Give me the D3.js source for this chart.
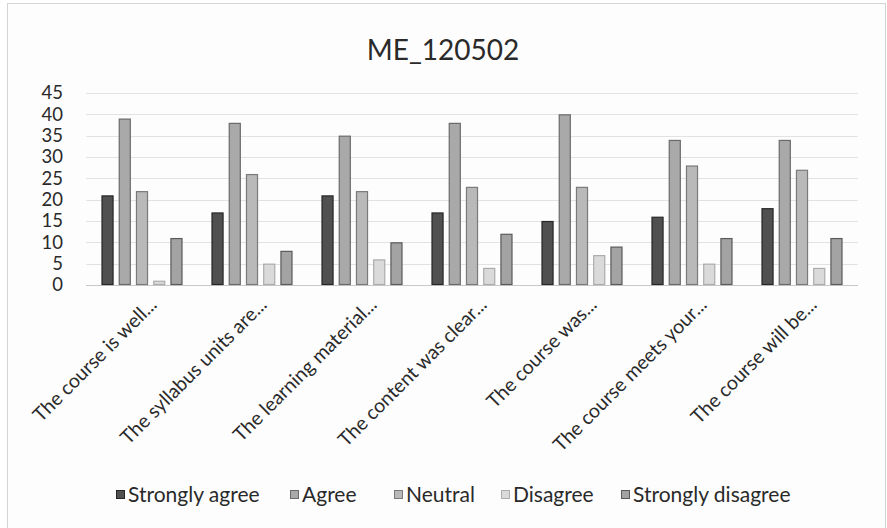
<!DOCTYPE html>
<html>
<head>
<meta charset="utf-8">
<script src="https://cdn.jsdelivr.net/npm/d3@7"></script>
<style>
  html, body { margin: 0; padding: 0; background: #ffffff; }
  svg { display: block; font-family: Lato, "Open Sans", sans-serif; }
</style>
</head>
<body>
<svg id="chart" width="887" height="528"></svg>
<script>
const title = "ME_120502";
const categories = [
  "The course is well...",
  "The syllabus units are...",
  "The learning material...",
  "The content was clear...",
  "The course was...",
  "The course meets your...",
  "The course will be..."
];
const seriesNames = ["Strongly agree", "Agree", "Neutral", "Disagree", "Strongly disagree"];
const stronglyAgree    = [21, 17, 21, 17, 15, 16, 18];
const agree            = [39, 38, 35, 38, 40, 34, 34];
const neutral          = [22, 26, 22, 23, 23, 28, 27];
const disagree         = [1, 5, 6, 4, 7, 5, 4];
const stronglyDisagree = [11, 8, 10, 12, 9, 11, 11];
const yTicks = [0, 5, 10, 15, 20, 25, 30, 35, 40, 45];

const seriesValues = [stronglyAgree, agree, neutral, disagree, stronglyDisagree];
const fills   = ["#505050", "#a9a9a9", "#b9b9b9", "#dadada", "#a3a3a3"];
const strokes = ["#262626", "#6a6a6a", "#7a7a7a", "#acacac", "#5a5a5a"];

const svg = d3.select("#chart");

// outer frame
svg.append("rect")
  .attr("x", 7.5).attr("y", 3.5).attr("width", 878).attr("height", 530)
  .attr("fill", "#fdfdfd").attr("stroke", "#d4d4d4");

const x0 = d3.scaleBand().domain(categories).range([87, 857]).padding(0);
const x1 = d3.scaleBand().domain(seriesNames)
  .range([14.5, x0.bandwidth() - 14.5]).paddingInner(0.3).paddingOuter(0);
const y = d3.scaleLinear().domain([0, 45]).range([285, 93]);

// gridlines
svg.append("g").selectAll("line").data(yTicks).join("line")
  .attr("x1", 86).attr("x2", 858)
  .attr("y1", d => Math.round(y(d)) + 0.5).attr("y2", d => Math.round(y(d)) + 0.5)
  .attr("stroke", d => d === 0 ? "#c8c8c8" : "#e2e2e2")
  .attr("stroke-width", 1);

// y axis labels
const yAxis = d3.axisLeft(y).tickValues(yTicks).tickSize(0).tickPadding(0);
const yg = svg.append("g").attr("transform", "translate(63,0)").call(yAxis);
yg.select(".domain").remove();
yg.selectAll("text")
  .attr("font-size", 18.5).attr("fill", "#2a2a2a")
  .style("font-family", "Lato, sans-serif");

// bars
const groups = svg.append("g").selectAll("g").data(categories).join("g")
  .attr("transform", d => `translate(${x0(d)},0)`);
groups.selectAll("rect")
  .data((c, ci) => seriesNames.map((s, si) => ({ s, si, v: seriesValues[si][ci] })))
  .join("rect")
  .attr("x", d => x1(d.s) + 0.5)
  .attr("width", x1.bandwidth() - 1)
  .attr("y", d => y(d.v) + 0.5)
  .attr("height", d => Math.max(0, y(0) - y(d.v) - 1))
  .attr("fill", d => fills[d.si])
  .attr("stroke", d => strokes[d.si])
  .attr("stroke-width", 1.2);

// category labels (rotated)
svg.append("g").selectAll("text").data(categories).join("text")
  .attr("transform", d => `translate(${x0(d) + x0.bandwidth() / 2 + 16},306) rotate(-45)`)
  .attr("text-anchor", "end")
  .attr("font-size", 19.5)
  .attr("fill", "#2a2a2a")
  .text(d => d);

// title
svg.append("text")
  .attr("x", 443).attr("y", 60)
  .attr("text-anchor", "middle")
  .attr("font-size", 28)
  .attr("fill", "#2a2a2a")
  .text(title);

// legend
const legendX = [116, 290, 394, 501, 621];
const lg = svg.append("g").selectAll("g").data(seriesNames).join("g")
  .attr("transform", (d, i) => `translate(${legendX[i]},495)`);
lg.append("rect")
  .attr("x", 0.5).attr("y", -4.5).attr("width", 8).attr("height", 8)
  .attr("fill", (d, i) => fills[i]).attr("stroke", (d, i) => strokes[i]);
lg.append("text")
  .attr("x", 12).attr("y", 7)
  .attr("font-size", 21)
  .attr("fill", "#2a2a2a")
  .text(d => d);
</script>
</body>
</html>
